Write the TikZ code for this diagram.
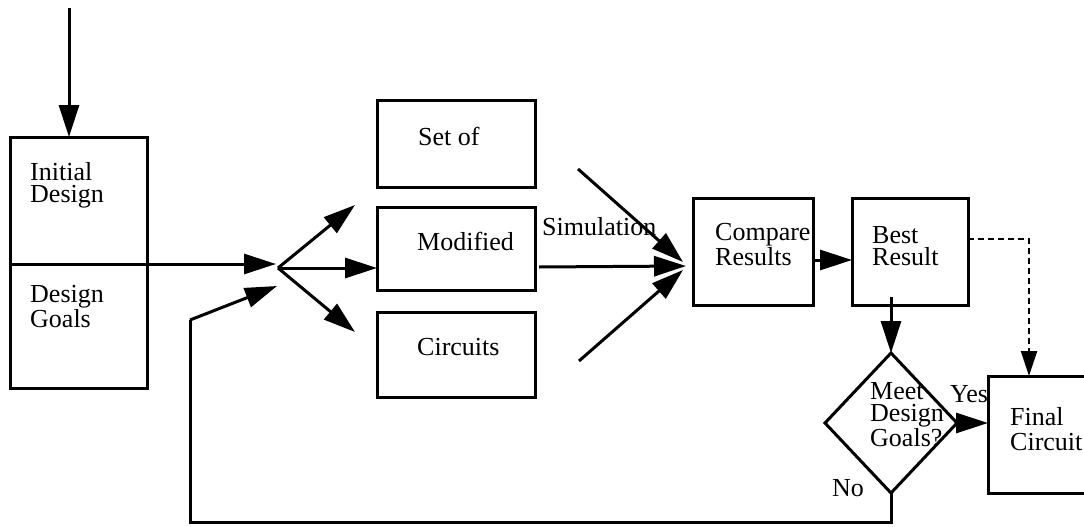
\documentclass[tikz,border=0pt]{standalone}
\usepackage{fontspec}
\setmainfont{Liberation Serif}
\usetikzlibrary{arrows.meta,shapes.geometric}

\tikzset{
  box/.style={draw, line width=3pt, rectangle, inner sep=0pt, outer sep=0pt},
  decision/.style={draw, line width=3pt, diamond, inner sep=0pt, outer sep=0pt},
  lbl/.style={anchor=base west, inner sep=0pt, align=left,
    font=\fontsize{26}{22}\selectfont},
  flow/.style={line width=3pt, -{Triangle[length=32pt,width=20pt]}},
  plain/.style={line width=3pt},
  optional/.style={line width=2.4pt, dash pattern=on 6pt off 4pt,
    -{Triangle[length=25pt,width=16pt]}}
}

\begin{document}
\begin{tikzpicture}[x=1pt, y=-1pt]
\path[use as bounding box, clip] (0,0) rectangle (1084,527);

% boxes
\node[box, minimum width=137pt, minimum height=127pt] (ld)  at (78.5,200.5) {};
\node[box, minimum width=137pt, minimum height=124pt] (lg)  at (78.5,326)   {};
\node[box, minimum width=158pt, minimum height=87pt]  (set) at (456,143.5)  {};
\node[box, minimum width=158pt, minimum height=83pt]  (mod) at (456,248.5)  {};
\node[box, minimum width=158pt, minimum height=85pt]  (cir) at (456,354.5)  {};
\node[box, minimum width=120pt, minimum height=107pt] (cmp) at (753,251.5)  {};
\node[box, minimum width=116pt, minimum height=107pt] (bst) at (910,251.5)  {};
\node[decision, minimum width=132pt, minimum height=140pt] (dia) at (891,423) {};
\node[box, minimum width=112pt, minimum height=117pt] (fin) at (1044,434.5) {};

% texts (anchored on the baseline of their last line)
\node[lbl] (tInit) at (30,202)  {Initial\\Design};
\node[lbl] (tGoal) at (30,327)  {Design\\Goals};
\node[lbl] (tSet)  at (418,145) {Set of};
\node[lbl] (tMod)  at (417,250) {Modified};
\node[lbl] (tCir)  at (417,355) {Circuits};
\node[lbl] (tSim)  at (542,235) {Simulation};
\node[lbl] (tCmp)  at (715,265) {Compare\\Results};
\node[lbl] (tBst)  at (872,265) {Best\\Result};
\node[lbl] (tMeet) at (870,446) {Meet\\Design\\Goals?};
\node[lbl] (tYes)  at (950,402) {Yes};
\node[lbl] (tNo)   at (832,496) {No};
\node[lbl, font=\fontsize{26}{25}\selectfont] (tFin) at (1010,450) {Final\\Circuit};

% fan-out point and its inputs
\coordinate (start) at (69,8);
\coordinate (jin)   at (276,264);
\coordinate (jfb)   at (277,286);
\coordinate (j)     at (278,268);
\coordinate (up)    at (355,205);
\coordinate (dn)    at (355,332);
\coordinate (fb)    at (190,320);
\coordinate (low)   at (190,522);

% simulation fan-in
\coordinate (s1) at (578,169);
\coordinate (s2) at (539,267);
\coordinate (s3) at (579,361);
\coordinate (c1) at (683,262);
\coordinate (c2) at (686,266);
\coordinate (c3) at (683,270);

% connectors
\draw[flow] (start) -- (start |- ld.north);
\draw[flow] (ld.south west) -- (jin);
\draw[flow] (j) -- (up);
\draw[flow] (j) -- (j -| mod.west);
\draw[flow] (j) -- (dn);

\draw[flow] (s1) -- (c1);
\draw[flow] (s2) -- (c2);
\draw[flow] (s3) -- (c3);

\draw[flow] (cmp.east |- 0,260) -- (bst.west |- 0,260);
\draw[flow] (dia.north |- 0,297) -- (dia.north);
\draw[flow] (dia.east) -- (dia.east -| fin.west);
\draw[optional] (bst.east |- 0,239) -| (1029,239) -- (1029,376);

% feedback loop
\draw[plain] (dia.south) -- (dia.south |- low) -- (low) -- (fb);
\draw[flow] (fb) -- (jfb);
\end{tikzpicture}
\end{document}
